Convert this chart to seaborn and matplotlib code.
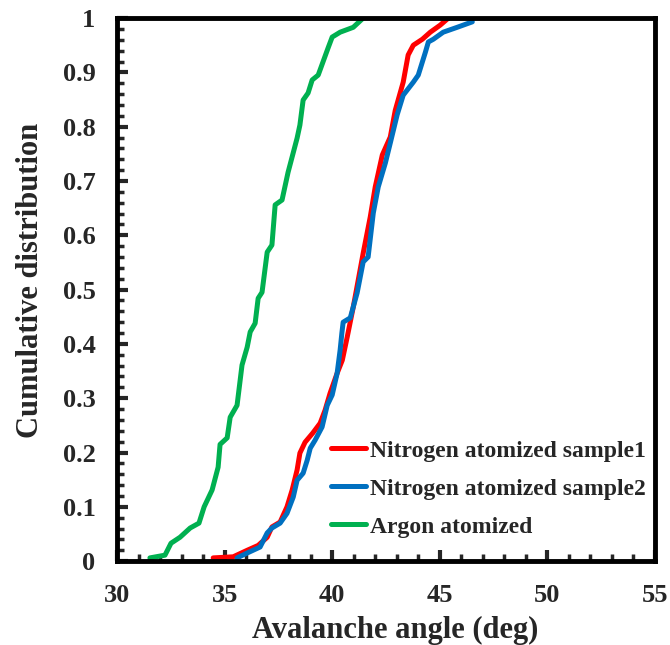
import matplotlib
matplotlib.use("Agg")
import matplotlib.pyplot as plt
import seaborn as sns
import pandas as pd
from matplotlib.ticker import MultipleLocator

# Data
red_x = [34.47, 35.4, 36.05, 36.56, 36.98, 37.2, 37.58, 37.9, 38.14, 38.37, 38.5, 38.74, 39.1, 39.44,
         39.67, 39.9, 40.23, 40.47, 40.7, 40.98, 41.44, 41.77, 42.0, 42.33, 42.7, 42.93, 43.3, 43.53,
         43.77, 44.19, 44.56, 45.02, 45.4]
red_y = [0.006, 0.008, 0.02, 0.029, 0.044, 0.063, 0.072, 0.1, 0.131, 0.168, 0.199, 0.219, 0.236, 0.254,
         0.278, 0.309, 0.346, 0.37, 0.413, 0.468, 0.567, 0.634, 0.689, 0.748, 0.781, 0.83, 0.882, 0.932,
         0.95, 0.961, 0.974, 0.987, 1.0]

blue_x = [35.58, 36.05, 36.65, 36.98, 37.2, 37.58, 37.9, 38.19, 38.37, 38.65, 38.84, 38.98, 39.21, 39.53,
          39.77, 40.0, 40.23, 40.37, 40.45, 40.51, 40.84, 41.16, 41.44, 41.67, 41.91, 42.14, 42.47, 42.7,
          43.02, 43.3, 43.77, 44.0, 44.33, 44.47, 44.7, 45.16, 45.81, 46.51]
blue_y = [0.006, 0.015, 0.026, 0.052, 0.061, 0.07, 0.088, 0.118, 0.149, 0.162, 0.186, 0.208, 0.223, 0.247,
          0.287, 0.306, 0.346, 0.389, 0.42, 0.44, 0.448, 0.494, 0.551, 0.56, 0.641, 0.689, 0.733, 0.77,
          0.822, 0.858, 0.882, 0.895, 0.937, 0.956, 0.961, 0.974, 0.983, 0.993]

green_x = [31.53, 32.23, 32.51, 32.93, 33.4, 33.81, 34.05, 34.42, 34.7, 34.79, 35.12, 35.26, 35.58, 35.81,
           36.05, 36.19, 36.42, 36.56, 36.74, 36.98, 37.2, 37.35, 37.67, 37.95, 38.37, 38.5, 38.65, 38.88,
           39.07, 39.35, 39.81, 40.0, 40.37, 40.98, 41.44]
green_y = [0.006, 0.011, 0.033, 0.044, 0.061, 0.07, 0.1, 0.131, 0.173, 0.215, 0.227, 0.265, 0.287, 0.361,
           0.394, 0.422, 0.438, 0.484, 0.495, 0.569, 0.582, 0.656, 0.665, 0.716, 0.779, 0.803, 0.849, 0.862,
           0.886, 0.895, 0.945, 0.965, 0.974, 0.983, 1.0]

series_names = ["Nitrogen atomized sample1", "Nitrogen atomized sample2", "Argon atomized"]
colors = ["#FF0000", "#0070C0", "#00B050"]

x_ticks = [30, 35, 40, 45, 50, 55]
y_ticks = [0, 0.1, 0.2, 0.3, 0.4, 0.5, 0.6, 0.7, 0.8, 0.9, 1]
y_tick_labels = ["0", "0.1", "0.2", "0.3", "0.4", "0.5", "0.6", "0.7", "0.8", "0.9", "1"]

frames = []
for name, xs, ys in zip(series_names, [red_x, blue_x, green_x], [red_y, blue_y, green_y]):
    frames.append(pd.DataFrame({"x": xs, "y": ys, "series": name}))
df = pd.concat(frames, ignore_index=True)

sns.set_style("white")
plt.rcParams["font.family"] = ["Liberation Serif", "DejaVu Serif"]
plt.rcParams["font.weight"] = "bold"

fig = plt.figure(figsize=(6.7, 6.45), dpi=100)
ax = fig.add_axes([0.1746, 0.130, 0.8030, 0.842])

sns.lineplot(data=df, x="x", y="y", hue="series", hue_order=series_names,
             palette=colors, estimator=None, sort=False, linewidth=3.6, ax=ax)

ax.set_xlim(30, 55)
ax.set_ylim(0, 1)
ax.set_xticks(x_ticks)
ax.set_xticklabels([str(t) for t in x_ticks], fontsize=19, fontweight="bold")
ax.set_yticks(y_ticks)
ax.set_yticklabels(y_tick_labels, fontsize=19, fontweight="bold")
ax.xaxis.set_minor_locator(MultipleLocator(1))
ax.yaxis.set_minor_locator(MultipleLocator(0.02))
ax.tick_params(axis="x", which="major", pad=16.5)
ax.tick_params(axis="y", which="major", pad=15.5)
ax.tick_params(axis="both", which="major", direction="in", length=8, width=3,
               bottom=True, left=True, top=False, right=False)
ax.tick_params(axis="both", which="minor", direction="in", length=5, width=2.5,
               bottom=True, left=True, top=False, right=False)

for s in ax.spines.values():
    s.set_linewidth(3.5)
    s.set_color("black")

ax.set_xlabel("Avalanche angle (deg)", fontsize=22, fontweight="bold", labelpad=6.5)
ax.set_ylabel("Cumulative distribution", fontsize=22, fontweight="bold", labelpad=13)
ax.xaxis.label.set_x(0.518)
ax.yaxis.label.set_y(0.517)

leg = ax.legend(loc="lower right", bbox_to_anchor=(1.009, 0.017), frameon=False,
                prop={"family": "Liberation Serif", "weight": "bold", "size": 17},
                handlelength=1.5, handletextpad=0.15, labelspacing=0.7, borderaxespad=0.2)
for line in leg.get_lines():
    line.set_linewidth(3.6)

fig.savefig("out.png", dpi=100)
